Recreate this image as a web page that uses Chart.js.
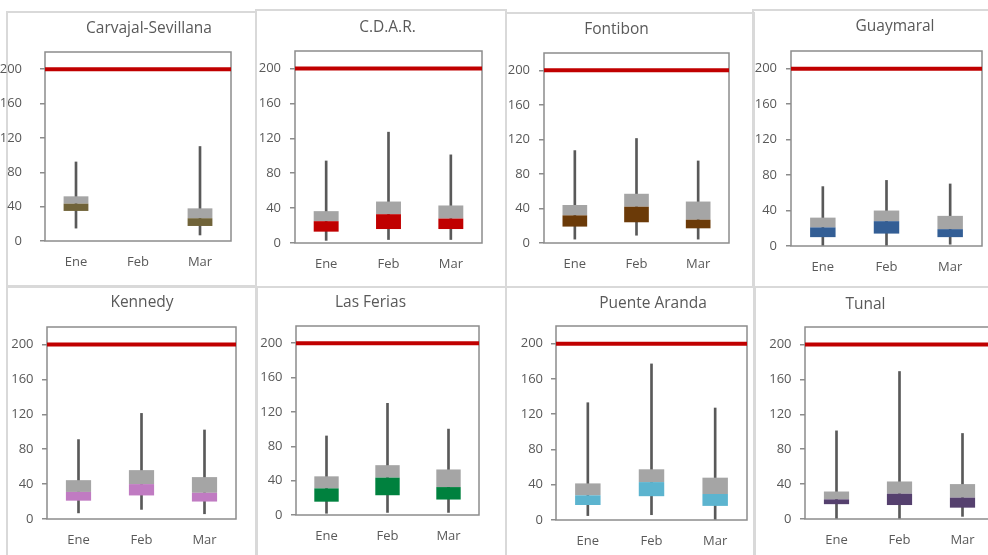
<!DOCTYPE html>
<html>
<head>
<meta charset="utf-8">
<script src="https://cdn.jsdelivr.net/npm/chart.js@4.4.1/dist/chart.umd.min.js"></script>
<style>
  html, body { margin: 0; padding: 0; background: #ffffff; }
  body { width: 988px; height: 555px; overflow: hidden; position: relative; }
  .frame { position: absolute; box-sizing: border-box; border: 2px solid #D9D9D9; }
  canvas { position: absolute; }
</style>
</head>
<body>
<script>
// ---------------- DATA ----------------
const months = ['Ene', 'Feb', 'Mar'];
const stations = ['Carvajal-Sevillana', 'C.D.A.R.', 'Fontibon', 'Guaymaral',
                  'Kennedy', 'Las Ferias', 'Puente Aranda', 'Tunal'];
// per station, per month (Ene, Feb, Mar)
const whiskerMin = [
  [15, null, 7], [3, 4, 4], [4.5, 9, 4.5], [1, 1, 2],
  [7, 11, 6], [2, 3, 3], [5, 6, 1], [1, 1, 3]
];
const quartile1 = [
  [35, null, 17.5], [13, 16, 16], [19, 24, 17], [10, 14, 10],
  [21, 27, 20], [15.5, 23, 18], [17, 27, 16], [17, 16, 13]
];
const medianVals = [
  [43.5, null, 26.5], [25, 33, 28], [32, 42, 27], [21, 28, 19],
  [31, 40, 30], [31, 43.5, 32.5], [28, 43, 29.5], [22.5, 29, 24.5]
];
const quartile3 = [
  [52, null, 38], [36.5, 47.5, 43], [44, 57, 48], [32, 40, 34],
  [44.5, 56, 48], [45, 58, 53], [41.5, 57.5, 48], [31.5, 43, 40]
];
const whiskerMax = [
  [92, null, 110], [94, 127, 101], [107, 121, 95], [67, 74, 70],
  [91, 121, 102], [92, 130, 100], [133, 177, 127], [101, 169, 98]
];
const limitValue = 200;
const yTicks = [0, 40, 80, 120, 160, 200];
const yMax = 220;

// ---------------- STYLE / LAYOUT ----------------
const boxColors = ['#706339', '#C00000', '#6B3A08', '#335E95',
                   '#C07BC2', '#00813E', '#5CB4CF', '#55406E'];
const upperColor = '#A5A5A5';
const whiskerColor = '#595959';
const limitColor = '#C00000';
const textColor = '#595959';
const axisColor = '#8C8C8C';
const FONT = '"Open Sans", "DejaVu Sans", sans-serif';

// frame [x0,y0,x1,y1], canvas left edge, plot [l,t,r,b], title centre [x,y], label gap
const layout = [
  { frame: [7, 12, 256, 286],   cx: 0,   plot: [45, 52, 231, 241],   title: [149, 29],   gap: 23 },
  { frame: [256, 10, 506, 287], cx: 256, plot: [295, 51, 482, 243],  title: [387.5, 28], gap: 14 },
  { frame: [506, 13, 754, 287], cx: 506, plot: [544, 53, 729, 243],  title: [616.5, 30], gap: 14 },
  { frame: [753, 10, 992, 287], cx: 753, plot: [791, 51, 982, 246],  title: [895, 27],   gap: 14 },
  { frame: [7, 287, 256, 562],  cx: 7,   plot: [47, 327, 236, 519],  title: [142, 303],  gap: 13.5 },
  { frame: [257, 287, 506, 562], cx: 257, plot: [296, 326, 479, 515], title: [370.5, 303], gap: 13.5 },
  { frame: [506, 287, 754, 562], cx: 506, plot: [556, 326, 747, 520], title: [653, 304],  gap: 13 },
  { frame: [755, 287, 1002, 562], cx: 755, plot: [805, 327, 994, 519], title: [865.5, 305], gap: 13.5 }
];

const plotBoxPlugin = {
  id: 'plotBox',
  beforeDatasetsDraw(chart) {
    const a = chart.chartArea, ctx = chart.ctx;
    ctx.save();
    ctx.strokeStyle = axisColor;
    ctx.lineWidth = 1.5;
    ctx.strokeRect(a.left, a.top, a.right - a.left, a.bottom - a.top);
    ctx.restore();
  }
};

const titlePlugin = {
  id: 'panelTitle',
  afterDraw(chart, args, opts) {
    const ctx = chart.ctx;
    ctx.save();
    ctx.font = '15.5px ' + FONT;
    ctx.fillStyle = textColor;
    ctx.textAlign = 'center';
    ctx.textBaseline = 'middle';
    ctx.fillText(opts.text, opts.x, opts.y);
    ctx.restore();
  }
};

stations.forEach((name, s) => {
  const L = layout[s];
  const [x0, y0, x1, y1] = L.frame;
  const [pl, pt, pr, pb] = L.plot;
  const cx = L.cx;
  const W = x1 - cx, H = y1 - y0;

  const fr = document.createElement('div');
  fr.className = 'frame';
  fr.style.left = (x0 - 1) + 'px';
  fr.style.top = (y0 - 1) + 'px';
  fr.style.width = (x1 - x0 + 2) + 'px';
  fr.style.height = (H + 2) + 'px';
  document.body.appendChild(fr);

  const cv = document.createElement('canvas');
  cv.width = W; cv.height = H;
  cv.style.left = cx + 'px'; cv.style.top = y0 + 'px';
  cv.style.width = W + 'px'; cv.style.height = H + 'px';
  document.body.appendChild(cv);

  const pair = (a, b) => months.map((_, i) =>
    (a[s][i] == null || b[s][i] == null) ? null : [a[s][i], b[s][i]]);

  new Chart(cv, {
    type: 'bar',
    data: {
      labels: months,
      datasets: [
        {
          type: 'line', label: 'Límite',
          data: [{ x: 0, y: limitValue }, { x: 1, y: limitValue }],
          xAxisID: 'x2', yAxisID: 'y',
          borderColor: limitColor, borderWidth: 4, pointRadius: 0,
          order: 0
        },
        {
          label: 'Q1-Mediana', data: pair(quartile1, medianVals),
          backgroundColor: boxColors[s], borderWidth: 0,
          barPercentage: 0.4, categoryPercentage: 1, grouped: false, order: 1
        },
        {
          label: 'Mediana-Q3', data: pair(medianVals, quartile3),
          backgroundColor: upperColor, borderWidth: 0,
          barPercentage: 0.4, categoryPercentage: 1, grouped: false, order: 1
        },
        {
          label: 'Min-Max', data: pair(whiskerMin, whiskerMax),
          backgroundColor: whiskerColor, borderWidth: 0,
          barThickness: 2, grouped: false, order: 2
        }
      ]
    },
    options: {
      responsive: false,
      animation: false,
      events: [],
      devicePixelRatio: 1,
      layout: { padding: { left: 0, top: pt - y0, right: x1 - pr, bottom: 0 } },
      plugins: {
        legend: { display: false },
        tooltip: { enabled: false },
        title: { display: false },
        panelTitle: { text: name, x: L.title[0] - cx, y: L.title[1] - y0 }
      },
      scales: {
        x: {
          type: 'category',
          offset: true,
          grid: { display: false, drawTicks: false, tickLength: 0 },
          border: { display: false },
          ticks: { color: textColor, font: { family: FONT, size: 13 }, padding: 13, maxRotation: 0 },
          afterFit: sc => { sc.height = y1 - pb; }
        },
        x2: { type: 'linear', min: 0, max: 1, display: false, offset: false },
        y: {
          min: 0, max: yMax,
          afterBuildTicks: sc => { sc.ticks = yTicks.map(v => ({ value: v })); },
          grid: { drawOnChartArea: false, drawTicks: true, tickLength: 5, color: axisColor, lineWidth: 1.5 },
          border: { display: false },
          ticks: { color: textColor, font: { family: FONT, size: 13 }, padding: L.gap - 5 },
          afterFit: sc => { sc.width = pl - cx; }
        }
      }
    },
    plugins: [plotBoxPlugin, titlePlugin]
  });
});
</script>
</body>
</html>
